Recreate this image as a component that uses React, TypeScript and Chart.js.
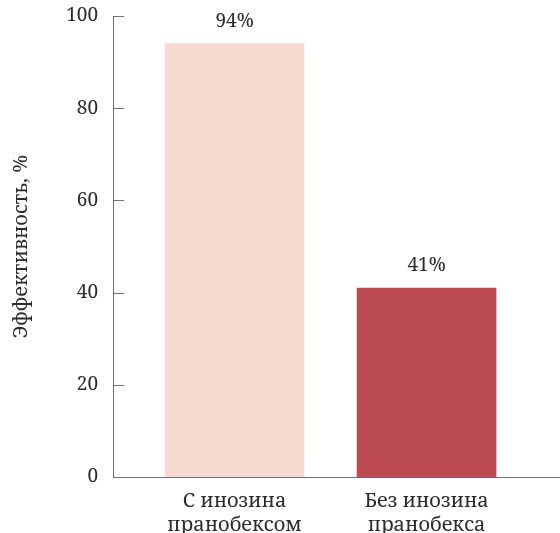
import React, { useEffect, useRef } from "react";
import { Chart, registerables } from "chart.js";

Chart.register(...registerables);

const categories: string[][] = [
  ["С инозина", "пранобексом"],
  ["Без инозина", "пранобекса"],
];
const values: number[] = [94, 41];
const valueLabels: string[] = ["94%", "41%"];
const barColors: string[] = ["#f9dad3", "#bd4b52"];
const yTicks: number[] = [0, 20, 40, 60, 80, 100];
const yTitle = "Эффективность, %";

const FONT = "'Noto Serif', serif";
const TEXT = "#2b2b2b";
const AXIS = "#707070";

const innerTicks = {
  id: "innerTicks",
  afterDraw(chart: any) {
    const { ctx, chartArea, scales } = chart;
    const y = scales.y;
    ctx.save();
    ctx.strokeStyle = AXIS;
    ctx.lineWidth = 1;
    yTicks.forEach((v) => {
      const py = Math.round(y.getPixelForValue(v)) + 0.5;
      ctx.beginPath();
      ctx.moveTo(chartArea.left, py);
      ctx.lineTo(chartArea.left + 11, py);
      ctx.stroke();
    });
    ctx.restore();
  },
};

const valueLabelPlugin = {
  id: "valueLabels",
  afterDatasetsDraw(chart: any) {
    const { ctx } = chart;
    const meta = chart.getDatasetMeta(0);
    ctx.save();
    ctx.fillStyle = TEXT;
    ctx.font = `19px ${FONT}`;
    ctx.textAlign = "center";
    ctx.textBaseline = "alphabetic";
    meta.data.forEach((bar: any, i: number) => {
      ctx.fillText(valueLabels[i], bar.x, bar.y - 17);
    });
    ctx.restore();
  },
};

export default function App() {
  const ref = useRef<HTMLCanvasElement>(null);
  useEffect(() => {
    if (!ref.current) return;
    const chart = new Chart(ref.current, {
      type: "bar",
      data: {
        datasets: [
          {
            data: categories.map((_, i) => ({ x: i, y: values[i] })) as any,
            backgroundColor: barColors,
            borderWidth: 0,
            barThickness: 139,
          },
        ],
      },
      options: {
        animation: false,
        responsive: false,
        maintainAspectRatio: false,
        layout: { padding: { top: 16, left: 0, right: 0, bottom: 0 } },
        plugins: {
          legend: { display: false },
          tooltip: { enabled: false },
        },
        scales: {
          x: {
            type: "linear",
            min: -0.633,
            max: 1.695,
            offset: false,
            grid: { display: false, drawTicks: false },
            border: { display: true, color: AXIS, width: 1 },
            afterBuildTicks: (s: any) => {
              s.ticks = categories.map((_, i) => ({ value: i }));
            },
            afterFit: (s: any) => {
              s.height = 56;
              s.paddingLeft = 0;
              s.paddingRight = 0;
            },
            ticks: {
              color: TEXT,
              font: { family: FONT, size: 20, lineHeight: 1.2 },
              padding: 12,
              maxRotation: 0,
              autoSkip: false,
              callback: (v: any) => categories[Number(v)] ?? "",
            },
          },
          y: {
            min: 0,
            max: 100,
            grid: { display: false, drawTicks: false },
            border: { display: true, color: AXIS, width: 1 },
            afterBuildTicks: (s: any) => {
              s.ticks = yTicks.map((v) => ({ value: v }));
            },
            afterFit: (s: any) => {
              s.width = 113;
              s.paddingTop = 0;
              s.paddingBottom = 0;
            },
            ticks: {
              color: TEXT,
              font: { family: FONT, size: 19 },
              padding: 15,
            },
            title: {
              display: true,
              text: yTitle,
              color: TEXT,
              font: { family: FONT, size: 20, lineHeight: 1.2 },
              padding: { top: 9, bottom: 0 },
            },
          },
        },
      },
      plugins: [innerTicks, valueLabelPlugin],
    });
    return () => chart.destroy();
  }, []);
  return (
    <div style={{ position: "fixed", left: 0, top: 0, width: 560, height: 533, background: "#fff" }}>
      <canvas ref={ref} width={560} height={533} style={{ width: 560, height: 533 }} />
    </div>
  );
}
